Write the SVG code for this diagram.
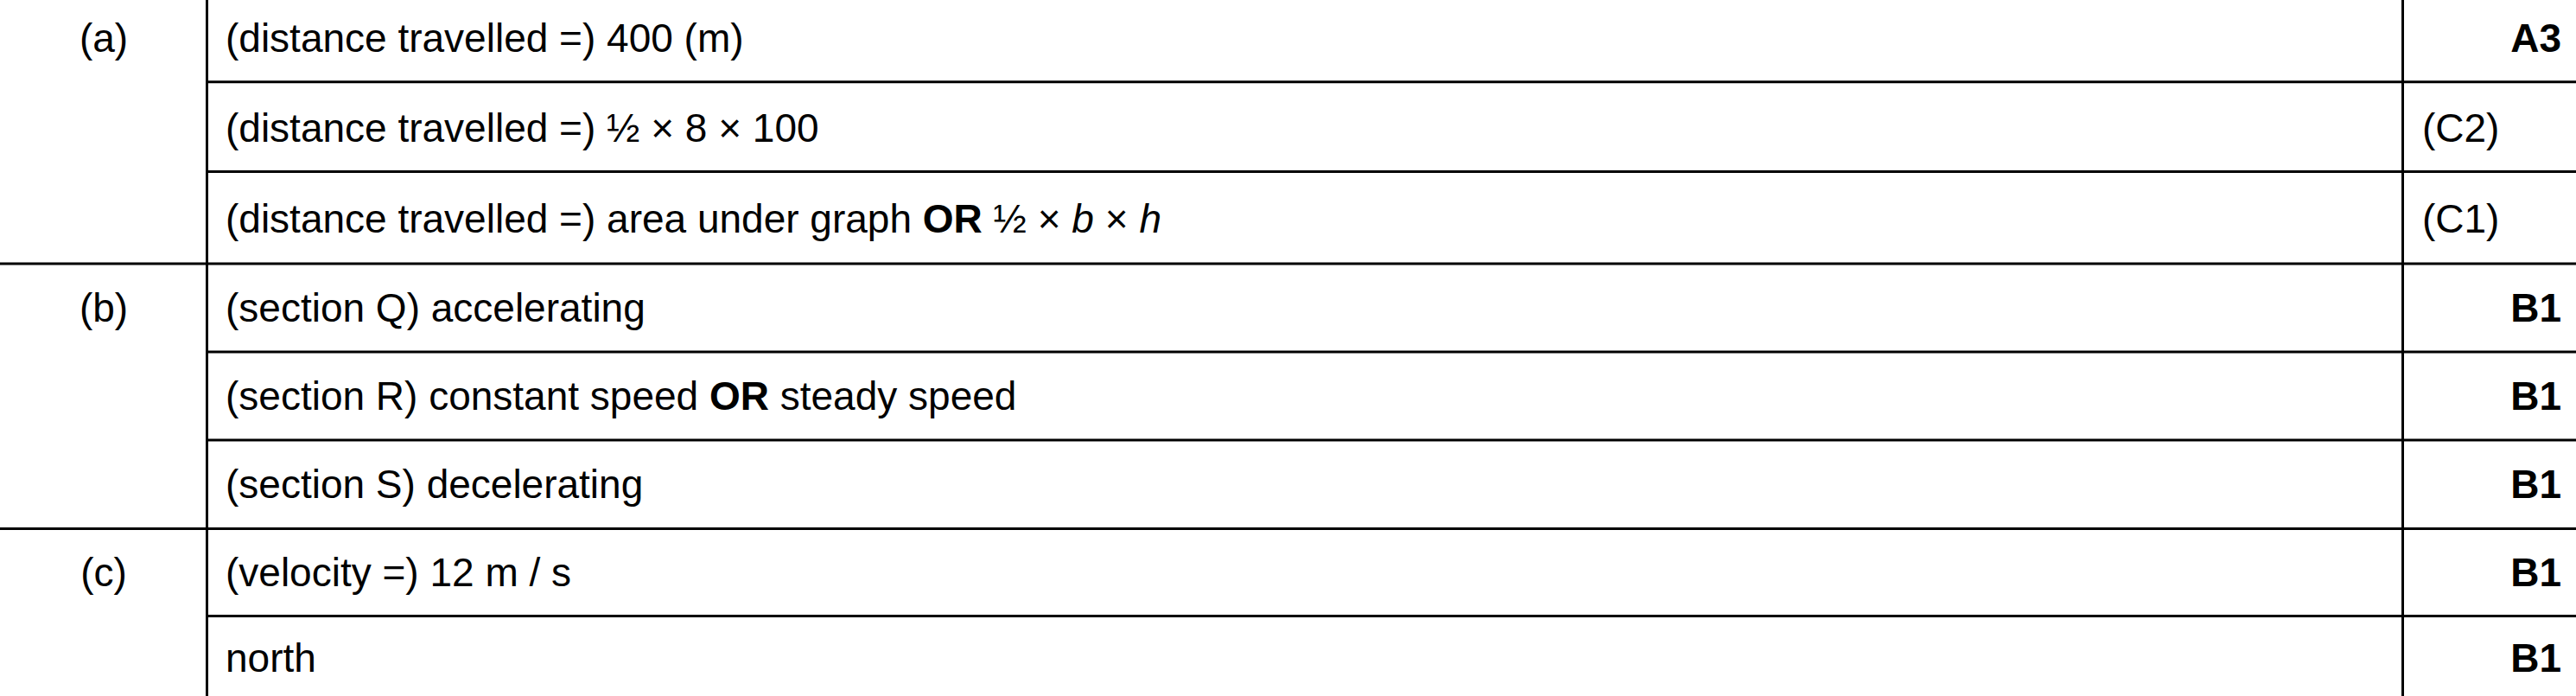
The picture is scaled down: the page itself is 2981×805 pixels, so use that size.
<svg xmlns="http://www.w3.org/2000/svg" width="2981" height="805" viewBox="0 0 2981 805">
<style>
text{font-family:"Liberation Sans",Arial,sans-serif;font-size:46px;fill:#000}
.c{text-anchor:middle}
.r{text-anchor:end;font-weight:bold}
.b{font-weight:bold}
.i{font-style:italic}
line{stroke:#000;stroke-width:3}
</style>
<rect width="2981" height="805" fill="#fff"/>
<g id="grid">
<line x1="239.5" y1="0" x2="239.5" y2="805"/>
<line x1="2780.5" y1="0" x2="2780.5" y2="805"/>
<line x1="239.5" y1="94.8" x2="2981" y2="94.8"/>
<line x1="239.5" y1="198.5" x2="2981" y2="198.5"/>
<line x1="0" y1="305" x2="2981" y2="305"/>
<line x1="239.5" y1="407" x2="2981" y2="407"/>
<line x1="239.5" y1="509" x2="2981" y2="509"/>
<line x1="0" y1="611.5" x2="2981" y2="611.5"/>
<line x1="239.5" y1="712.5" x2="2981" y2="712.5"/>
</g>
<g id="part-a">
<text class="c" x="120" y="60">(a)</text>
<text x="261" y="60">(distance travelled =) 400 (m)</text>
<text class="r" x="2964" y="60">A3</text>
<text x="261" y="164">(distance travelled =) ½ × 8 × 100</text>
<text x="2803" y="164">(C2)</text>
<text x="261" y="269">(distance travelled =) area under graph <tspan class="b">OR</tspan> ½ × <tspan class="i">b</tspan> × <tspan class="i">h</tspan></text>
<text x="2803" y="269">(C1)</text>
</g>
<g id="part-b">
<text class="c" x="120" y="372">(b)</text>
<text x="261" y="372">(section Q) accelerating</text>
<text class="r" x="2964" y="372">B1</text>
<text x="261" y="474">(section R) constant speed <tspan class="b">OR</tspan> steady speed</text>
<text class="r" x="2964" y="474">B1</text>
<text x="261" y="576">(section S) decelerating</text>
<text class="r" x="2964" y="576">B1</text>
</g>
<g id="part-c">
<text class="c" x="120" y="678">(c)</text>
<text x="261" y="678">(velocity =) 12 m / s</text>
<text class="r" x="2964" y="678">B1</text>
<text x="261" y="777">north</text>
<text class="r" x="2964" y="777">B1</text>
</g>
</svg>
